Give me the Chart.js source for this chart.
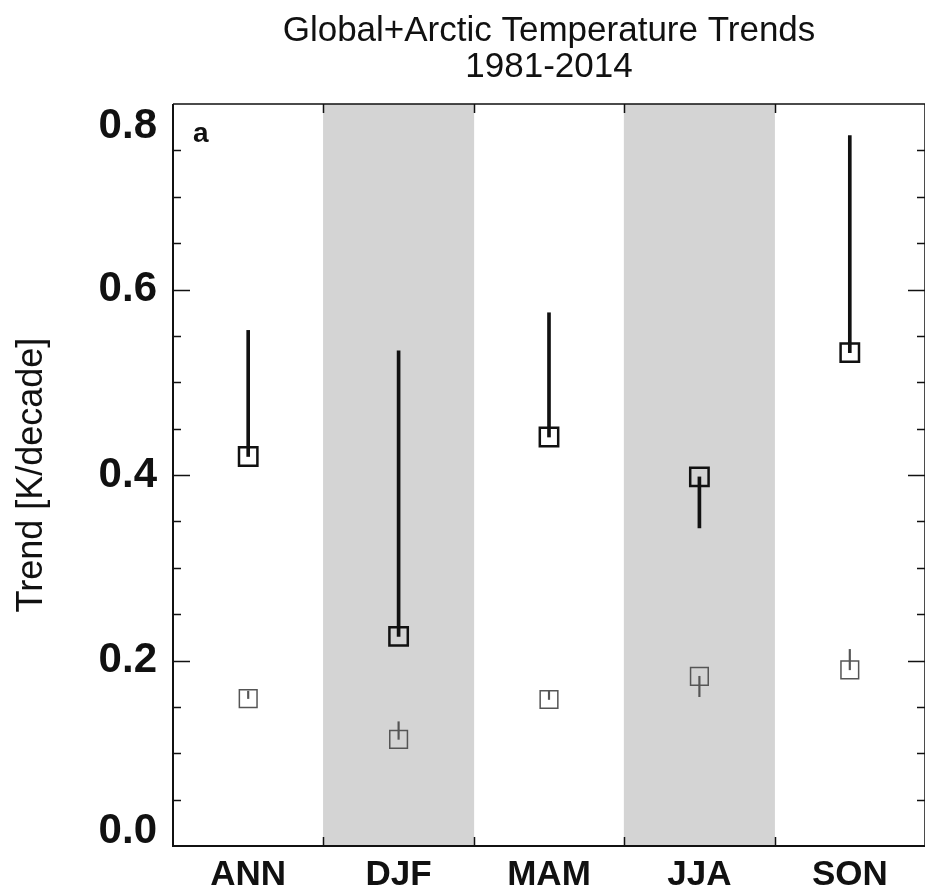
<!DOCTYPE html>
<html>
<head>
<meta charset="utf-8">
<script src="https://cdn.jsdelivr.net/npm/chart.js@4.4.1/dist/chart.umd.min.js"></script>
<style>
  html, body { margin: 0; padding: 0; background: #fff; }
  #wrap { width: 925px; height: 895px; }
</style>
</head>
<body>
<div id="wrap"><canvas id="trendChart" width="925" height="895"></canvas></div>
<script>
// Seasons on the x axis
const seasons = ["ANN", "DJF", "MAM", "JJA", "SON"];

// Arctic trends (big squares) and the far end of their line
const arcticTrend = [0.420, 0.226, 0.441, 0.398, 0.532];
const arcticEnd = [0.556, 0.534, 0.575, 0.343, 0.766];

// Global trends (small grey squares) and the far end of their line
const globalTrend = [0.159, 0.115, 0.158, 0.183, 0.190];
const globalEnd = [0.167, 0.134, 0.167, 0.161, 0.212];

// Shaded seasons (DJF and JJA)
const shaded = [null, 0.8, null, 0.8, null];

// Y axis tick labels
const yLabels = [0.0, 0.2, 0.4, 0.6, 0.8];

document.addEventListener("DOMContentLoaded", function () {
    const ctx = document.getElementById("trendChart").getContext("2d");
    const FONT = "'Liberation Sans', Arial, Helvetica, sans-serif";

    // floating bars [trend, end] used as the thin vertical lines
    const arcticLines = arcticTrend.map((v, i) => [v, arcticEnd[i]]);
    const globalLines = globalTrend.map((v, i) => [v, globalEnd[i]]);

    // IDL style frame: box, inward ticks, y labels and panel letter
    const framePlugin = {
        id: "frame",
        afterDatasetsDraw(chart) {
            const { ctx, chartArea: a, scales } = chart;
            const y = scales.y, x = scales.x;
            ctx.save();
            ctx.strokeStyle = "#111";

            // box
            ctx.lineWidth = 2;
            ctx.beginPath();
            ctx.moveTo(a.left, a.top); ctx.lineTo(a.left, a.bottom); ctx.lineTo(a.right, a.bottom);
            ctx.stroke();
            ctx.lineWidth = 1.5;
            ctx.beginPath();
            ctx.moveTo(a.left, a.top); ctx.lineTo(a.right, a.top); ctx.lineTo(a.right, a.bottom);
            ctx.stroke();

            // y ticks, major every 0.2, minor every 0.05
            ctx.lineWidth = 1.5;
            for (let k = 1; k < 16; k++) {
                const py = Math.round(y.getPixelForValue(k * 0.05)) + 0.5;
                const len = k % 4 === 0 ? 17 : 8;
                ctx.beginPath();
                ctx.moveTo(a.left, py); ctx.lineTo(a.left + len, py);
                ctx.moveTo(a.right, py); ctx.lineTo(a.right - len, py);
                ctx.stroke();
            }

            // x ticks at season boundaries
            for (let i = 1; i < seasons.length; i++) {
                const px = Math.round((x.getPixelForValue(i - 1) + x.getPixelForValue(i)) / 2) + 0.5;
                ctx.beginPath();
                ctx.moveTo(px, a.bottom); ctx.lineTo(px, a.bottom - 9);
                ctx.moveTo(px, a.top); ctx.lineTo(px, a.top + 9);
                ctx.stroke();
            }

            // y tick labels, end labels kept inside the axis
            ctx.fillStyle = "#111";
            ctx.font = "bold 42px " + FONT;
            ctx.textAlign = "right";
            ctx.textBaseline = "middle";
            yLabels.forEach(v => {
                let py = y.getPixelForValue(v);
                py = Math.min(Math.max(py, a.top + 22), a.bottom - 15);
                ctx.fillText(v.toFixed(1), a.left - 16, py);
            });

            // panel letter
            ctx.font = "bold 28px " + FONT;
            ctx.textAlign = "left";
            ctx.textBaseline = "alphabetic";
            ctx.fillText("a", a.left + 20, a.top + 38);
            ctx.restore();
        }
    };

    new Chart(ctx, {
        type: "bar",
        data: {
            labels: seasons,
            datasets: [
                {
                    label: "Arctic",
                    type: "line",
                    data: arcticTrend,
                    showLine: false,
                    pointStyle: "rect",
                    pointRadius: 13,
                    borderWidth: 2.5,
                    borderColor: "#111",
                    backgroundColor: "rgba(0,0,0,0)",
                    order: 1
                },
                {
                    label: "Global",
                    type: "line",
                    data: globalTrend,
                    showLine: false,
                    pointStyle: "rect",
                    pointRadius: 12.5,
                    borderWidth: 1.5,
                    borderColor: "#555",
                    backgroundColor: "rgba(0,0,0,0)",
                    order: 2
                },
                {
                    label: "Arctic range",
                    data: arcticLines,
                    backgroundColor: "#111",
                    barThickness: 3,
                    grouped: false,
                    order: 3
                },
                {
                    label: "Global range",
                    data: globalLines,
                    backgroundColor: "#555",
                    barThickness: 1.5,
                    grouped: false,
                    order: 4
                },
                {
                    label: "shade",
                    data: shaded,
                    backgroundColor: "#d4d4d4",
                    barPercentage: 1,
                    categoryPercentage: 1,
                    grouped: false,
                    order: 5
                }
            ]
        },
        options: {
            responsive: false,
            animation: false,
            events: [],
            layout: { autoPadding: false, padding: { left: 10, right: 0, top: 0, bottom: 0 } },
            plugins: {
                legend: { display: false },
                tooltip: { enabled: false },
                title: {
                    display: true,
                    fullSize: false,
                    text: ["Global+Arctic Temperature Trends", "1981-2014"],
                    color: "#111",
                    font: { family: FONT, size: 35, weight: "normal", lineHeight: 1.03 },
                    padding: { top: 13, bottom: 19 }
                }
            },
            scales: {
                x: {
                    grid: { display: false, drawTicks: false },
                    border: { display: false },
                    ticks: {
                        color: "#111",
                        padding: 10,
                        font: { family: FONT, size: 35, weight: "bold", lineHeight: 1.1 }
                    },
                    afterFit(scale) { scale.height = 49; }
                },
                y: {
                    min: 0,
                    max: 0.8,
                    grid: { display: false, drawTicks: false },
                    border: { display: false },
                    ticks: { display: false },
                    title: {
                        display: true,
                        text: "Trend [K/decade]",
                        color: "#111",
                        font: { family: FONT, size: 36, weight: "normal", lineHeight: 1.2 },
                        padding: { top: 0, bottom: 0 }
                    },
                    afterFit(scale) { scale.width = 163; }
                }
            }
        },
        plugins: [framePlugin]
    });
});
</script>
</body>
</html>
